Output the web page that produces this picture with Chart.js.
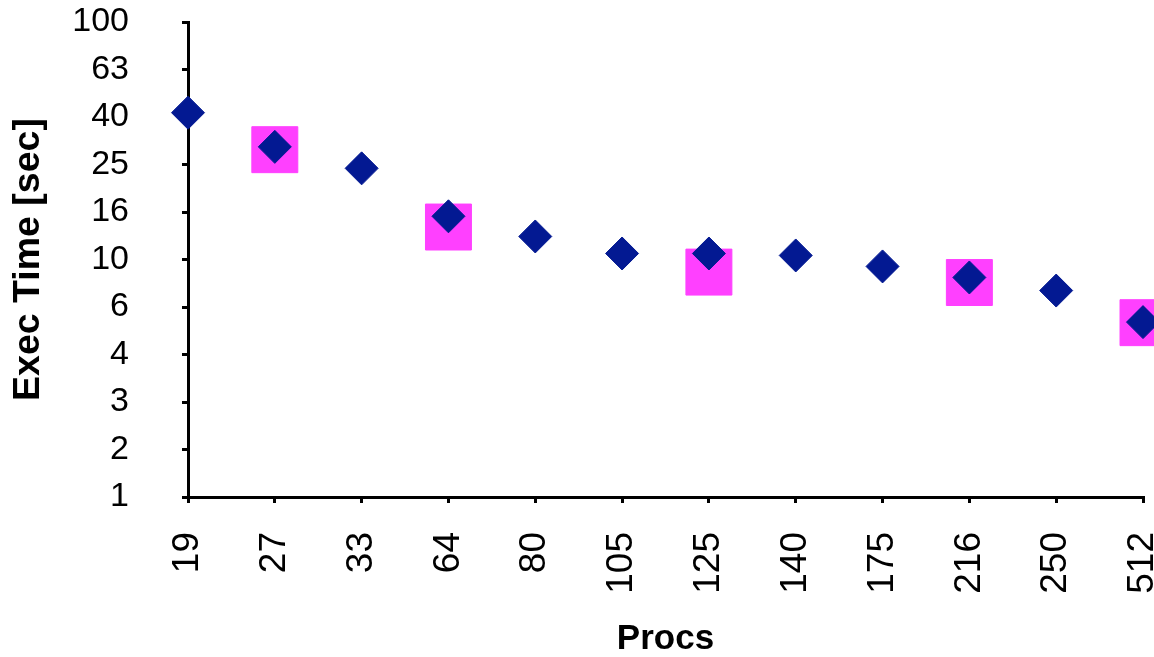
<!DOCTYPE html>
<html>
<head>
<meta charset="utf-8">
<script src="https://cdn.jsdelivr.net/npm/chart.js@4/dist/chart.umd.min.js"></script>
<style>
  body { margin: 0; background: #fff; }
  #wrap { width: 1154px; height: 657px; }
</style>
</head>
<body>
<div id="wrap"><canvas id="chart" width="1154" height="657"></canvas></div>
<script>
// ---- data
var procs = ['19', '27', '33', '64', '80', '105', '125', '140', '175', '216', '250', '512'];
var execTime = [41.5, 29.8, 24.2, 15.2, 12.5, 10.6, 10.6, 10.4, 9.35, 8.4, 7.4, 5.45];
var execTimeAlt = [null, 29.0, null, 13.7, null, null, 8.85, null, null, 8.0, null, 5.42];
var yTickLabels = ['1', '2', '3', '4', '6', '10', '16', '25', '40', '63', '100'];

var fontFamily = "'Liberation Sans', Arial, sans-serif";

// fixed geometry of the plot box
function fixY(scale){
    scale.width = 188;
    scale.paddingTop = 0;
    scale.paddingBottom = 0;
}
function fixX(scale){
    scale.height = 160;
    scale.paddingLeft = 0;
    scale.paddingRight = 0;
}

var ctx = document.getElementById('chart');
var chart = new Chart(ctx, {
    type: 'line',
    data: {
        labels: procs,
        datasets: [
            {
                label: 'Exec Time',
                data: execTime,
                showLine: false,
                pointStyle: 'rectRot',
                pointRadius: 16.5,
                pointHoverRadius: 16.5,
                backgroundColor: '#031992',
                borderColor: '#031992',
                borderWidth: 1,
                order: 1
            },
            {
                label: 'Exec Time (2)',
                data: execTimeAlt,
                showLine: false,
                pointStyle: 'rect',
                pointRadius: 32.5,
                pointHoverRadius: 32.5,
                backgroundColor: '#ff40ff',
                borderColor: '#ff40ff',
                borderWidth: 1,
                order: 2
            }
        ]
    },
    options: {
        responsive: false,
        animation: false,
        layout: { autoPadding: false, padding: { top: 22, right: 11, left: 0, bottom: 0 } },
        plugins: {
            legend: { display: false },
            tooltip: { enabled: false }
        },
        scales: {
            x: {
                type: 'category',
                offset: false,
                afterFit: fixX,
                border: { display: true, color: '#000', width: 3 },
                grid: {
                    display: true,
                    drawOnChartArea: false,
                    drawTicks: true,
                    tickLength: 6,
                    color: '#000',
                    lineWidth: 3
                },
                ticks: {
                    autoSkip: false,
                    minRotation: 90,
                    maxRotation: 90,
                    padding: 29,
                    color: '#000',
                    font: { family: fontFamily, size: 37 }
                },
                title: {
                    display: true,
                    text: 'Procs',
                    color: '#000',
                    padding: { top: 0, bottom: -3 },
                    font: { family: fontFamily, size: 35, weight: 'bold' }
                }
            },
            y: {
                type: 'logarithmic',
                min: 1,
                max: 100,
                afterFit: fixY,
                afterBuildTicks: function (scale){
                    // five steps per decade, same as the original axis
                    scale.ticks = yTickLabels.map(function (t, i){
                        return { value: Math.pow(10, i / 5) };
                    });
                },
                border: { display: true, color: '#000', width: 3 },
                grid: {
                    display: true,
                    drawOnChartArea: false,
                    drawTicks: true,
                    tickLength: 6,
                    color: '#000',
                    lineWidth: 3
                },
                ticks: {
                    padding: 53,
                    color: '#000',
                    font: { family: fontFamily, size: 34 },
                    callback: function (value, index){
                        return yTickLabels[index];
                    }
                },
                title: {
                    display: true,
                    text: 'Exec Time [sec]',
                    color: '#000',
                    padding: { top: 6, bottom: 0 },
                    font: { family: fontFamily, size: 37.5, weight: 'bold' }
                }
            }
        }
    }
});
</script>
</body>
</html>
